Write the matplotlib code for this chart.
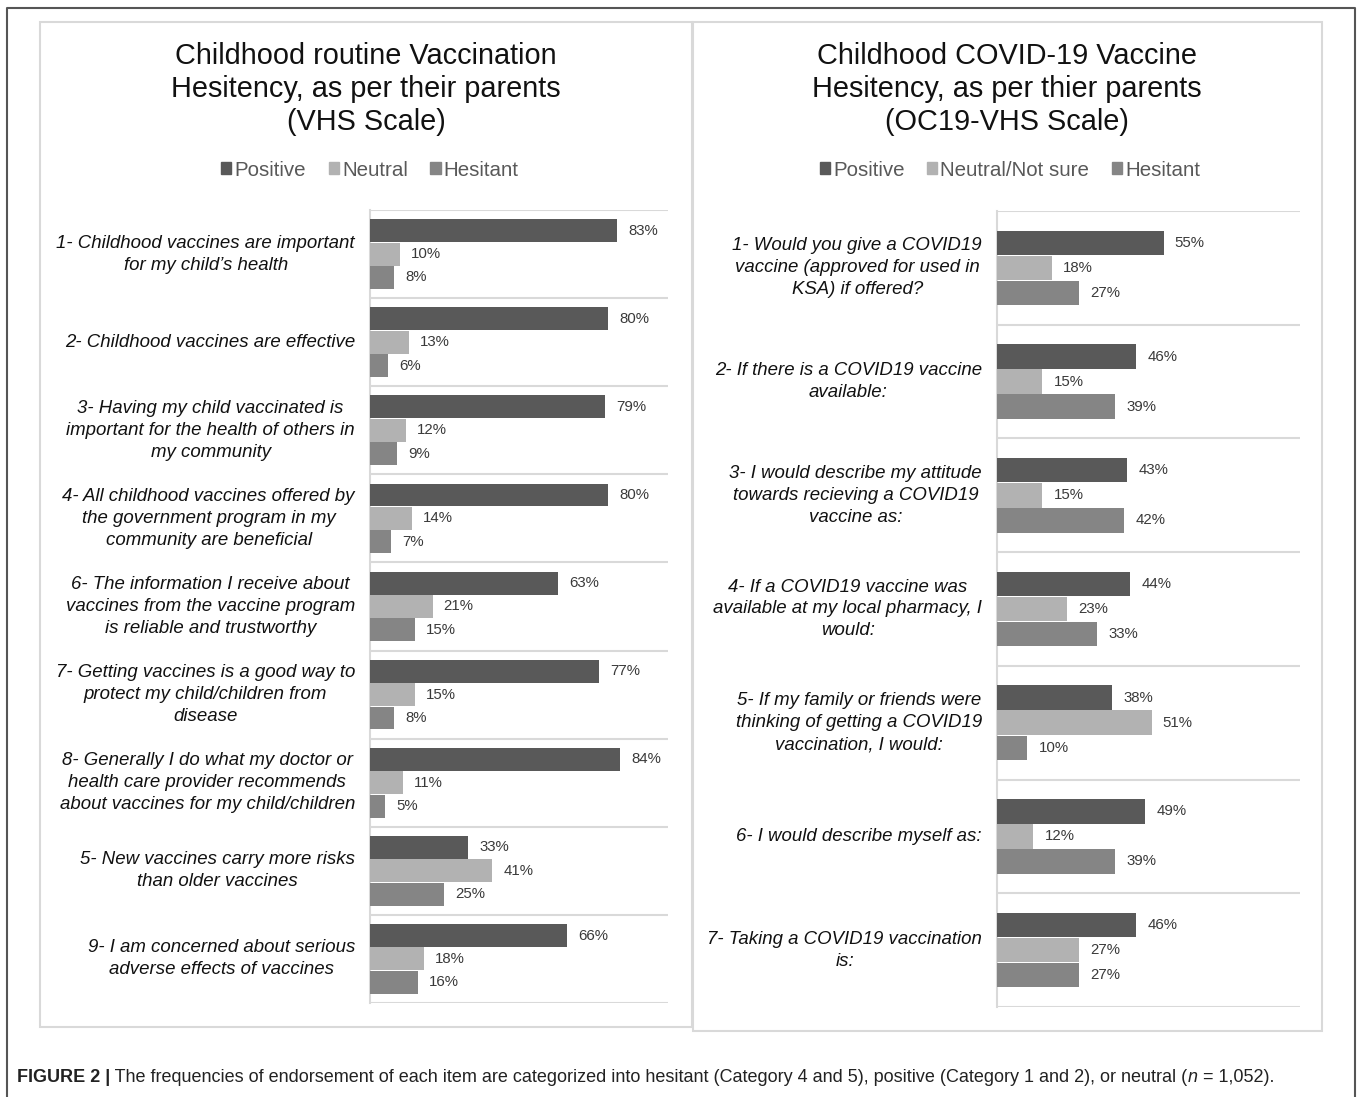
import matplotlib.pyplot as plt
from matplotlib.patches import Patch, Rectangle
from matplotlib.lines import Line2D
import numpy as np

W, H = 1358, 1097

c_pos = '#595959'
c_neu = '#b2b2b2'
c_hes = '#858585'
grid_c = '#d9d9d9'

# left panel: routine vaccination (VHS scale)
vhs_labels = [
    "1- Childhood vaccines are important\nfor my child’s health",
    "2- Childhood vaccines are effective",
    "3- Having my child vaccinated is\nimportant for the health of others in\nmy community",
    "4- All childhood vaccines offered by\nthe government program in my\ncommunity are beneficial",
    "6- The information I receive about\nvaccines from the vaccine program\nis reliable and trustworthy",
    "7- Getting vaccines is a good way to\nprotect my child/children from\ndisease",
    "8- Generally I do what my doctor or\nhealth care provider recommends\nabout vaccines for my child/children",
    "5- New vaccines carry more risks\nthan older vaccines",
    "9- I am concerned about serious\nadverse effects of vaccines",
]
vhs_pos = [83, 80, 79, 80, 63, 77, 84, 33, 66]
vhs_neu = [10, 13, 12, 14, 21, 15, 11, 41, 18]
vhs_hes = [8, 6, 9, 7, 15, 8, 5, 25, 16]

# right panel: COVID-19 vaccine (OC19-VHS scale)
oc_labels = [
    "1- Would you give a COVID19\nvaccine (approved for used in\nKSA) if offered?",
    "2- If there is a COVID19 vaccine\navailable:",
    "3- I would describe my attitude\ntowards recieving a COVID19\nvaccine as:",
    "4- If a COVID19 vaccine was\navailable at my local pharmacy, I\nwould:",
    "5- If my family or friends were\nthinking of getting a COVID19\nvaccination, I would:",
    "6- I would describe myself as:",
    "7- Taking a COVID19 vaccination\nis:",
]
oc_pos = [55, 46, 43, 44, 38, 49, 46]
oc_neu = [18, 15, 15, 23, 51, 12, 27]
oc_hes = [27, 39, 42, 33, 10, 39, 27]

plt.rcParams['font.family'] = ['Liberation Sans', 'DejaVu Sans']

fig = plt.figure(figsize=(W / 100, H / 100), dpi=100)


def box(x0, y0, x1, y1):
    return [x0 / W, 1 - y1 / H, (x1 - x0) / W, (y1 - y0) / H]


def draw_panel(rect, labels, pos, neu, hes, bar_h, off):
    ax = fig.add_axes(rect)
    n = len(labels)
    y = np.arange(n) + 0.5
    for vals, col, dy in [(pos, c_pos, -off), (neu, c_neu, 0), (hes, c_hes, off)]:
        bars = ax.barh(y + dy, vals, height=bar_h, color=col, zorder=3)
        for b, v in zip(bars, vals):
            ax.annotate(f"{v}%", (b.get_width(), b.get_y() + b.get_height() / 2),
                        xytext=(8, 0), textcoords='offset points',
                        va='center', ha='left', fontsize=10.8, color='#3a3a3a')
    for k in range(n + 1):
        ax.axhline(k, color=grid_c, lw=1.5, zorder=1)
    ax.set_xlim(0, 100)
    ax.set_ylim(n, 0)
    for s in ['top', 'right', 'bottom']:
        ax.spines[s].set_visible(False)
    ax.spines['left'].set_color(grid_c)
    ax.spines['left'].set_linewidth(1.5)
    ax.set_xticks([])
    ax.set_yticks([])
    px_w = rect[2] * W
    for yy, lab in zip(y, labels):
        ax.text(-15 / px_w, yy, lab, transform=ax.get_yaxis_transform(),
                ha='right', va='center', multialignment='center',
                fontsize=13.4, style='italic', color='#111111', linespacing=1.38)
    return ax


# panel frames
fig.patches.append(Rectangle((40 / W, 1 - 1027 / H), 652 / W, 1005 / H, transform=fig.transFigure,
                             fill=False, edgecolor=grid_c, lw=1.5))
fig.patches.append(Rectangle((693 / W, 1 - 1031 / H), 629 / W, 1009 / H, transform=fig.transFigure,
                             fill=False, edgecolor=grid_c, lw=1.5))

# outer border
fig.lines.append(Line2D([7 / W, 7 / W, 1355 / W, 1355 / W], [0, 1 - 8 / H, 1 - 8 / H, 0],
                        transform=fig.transFigure, color='#555555', lw=1.5))

draw_panel(box(370, 210, 668, 1003), vhs_labels, vhs_pos, vhs_neu, vhs_hes, 0.26, 0.265)
draw_panel(box(997, 211, 1300, 1007), oc_labels, oc_pos, oc_neu, oc_hes, 0.215, 0.22)

fig.text(366 / W, 1 - 89 / H,
         "Childhood routine Vaccination\nHesitency, as per their parents\n(VHS Scale)",
         ha='center', va='center', fontsize=20.8, color='#111111', linespacing=1.24)
fig.text(1007 / W, 1 - 89 / H,
         "Childhood COVID-19 Vaccine\nHesitency, as per thier parents\n(OC19-VHS Scale)",
         ha='center', va='center', fontsize=20.8, color='#111111', linespacing=1.24)

leg_kw = dict(loc='center', ncol=3, frameon=False, fontsize=14.8, handlelength=0.5,
              handleheight=0.5, handletextpad=0.15, columnspacing=1.1, labelcolor='#595959')
fig.legend([Patch(color=c_pos), Patch(color=c_neu), Patch(color=c_hes)],
           ['Positive', 'Neutral', 'Hesitant'],
           bbox_to_anchor=(370 / W, 1 - 170 / H), **leg_kw)
fig.legend([Patch(color=c_pos), Patch(color=c_neu), Patch(color=c_hes)],
           ['Positive', 'Neutral/Not sure', 'Hesitant'],
           bbox_to_anchor=(1010 / W, 1 - 170 / H), **leg_kw)

# caption, written in pieces so the bold and italic parts line up
renderer = fig.canvas.get_renderer()
cap_font = ['Liberation Sans Narrow', 'Liberation Sans', 'DejaVu Sans']
pieces = [
    ("FIGURE 2 |", 'bold', 'normal'),
    (" The frequencies of endorsement of each item are categorized into hesitant (Category 4 and 5), "
     "positive (Category 1 and 2), or neutral (", 'normal', 'normal'),
    ("n", 'normal', 'italic'),
    (" = 1,052).", 'normal', 'normal'),
]
x = 17
for txt, wt, st in pieces:
    t = fig.text(x / W, 1 - 1078 / H, txt, ha='left', va='center', fontsize=13,
                 fontweight=wt, style=st, family=cap_font, color='#222222')
    x += t.get_window_extent(renderer).width

fig.savefig('out.png', dpi=100)
